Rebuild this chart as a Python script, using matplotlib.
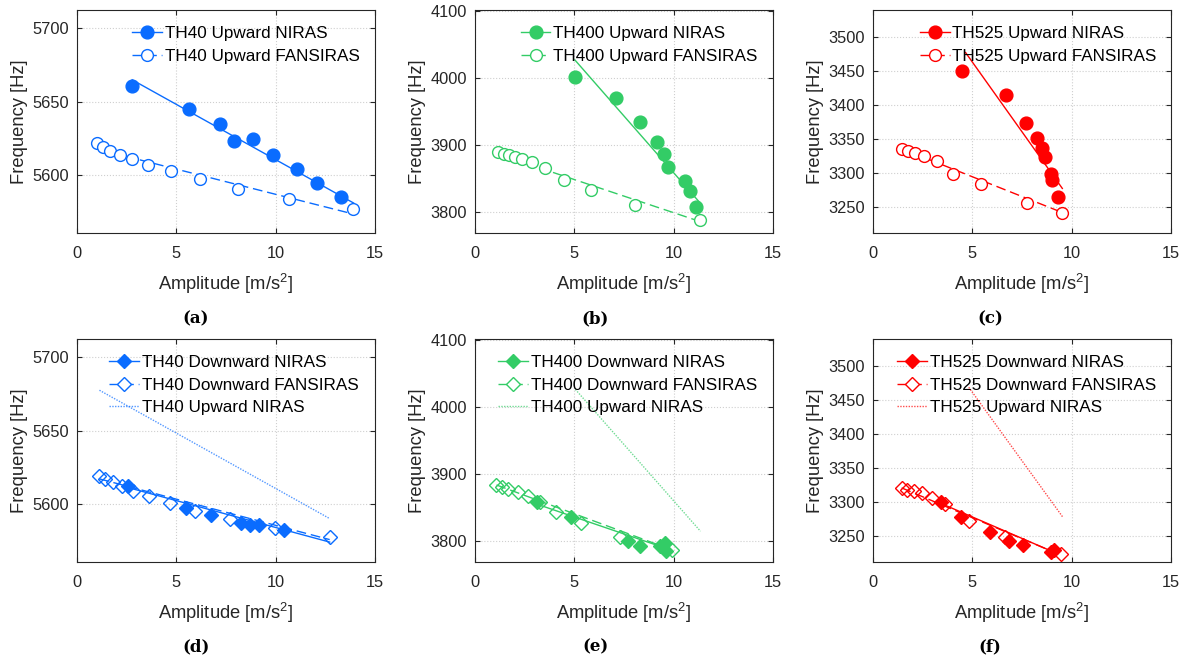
import matplotlib.pyplot as plt
from matplotlib.lines import Line2D

plt.rcParams['font.family'] = ['Liberation Sans', 'DejaVu Sans']
plt.rcParams['mathtext.default'] = 'regular'

blue = '#0a6cff'
green = '#33cc66'
red = '#ff0000'

# ---- upward sweeps ----
th40_up_niras_amp = [2.78, 5.63, 7.18, 7.92, 8.87, 9.87, 11.08, 12.10, 13.28]
th40_up_niras_freq = [5660.7, 5645.2, 5634.5, 5623.2, 5624.1, 5613.2, 5604.1, 5594.5, 5584.8]
th40_up_niras_fit_amp = [2.78, 13.92]
th40_up_niras_fit_freq = [5664.8, 5580.7]
th40_up_fans_amp = [1.03, 1.33, 1.68, 2.15, 2.78, 3.58, 4.72, 6.18, 8.10, 10.68, 13.87]
th40_up_fans_freq = [5621.4, 5618.9, 5616.4, 5613.6, 5610.5, 5606.8, 5602.5, 5597.0, 5590.5, 5583.4, 5576.4]
th40_up_fans_fit_amp = [1.03, 13.87]
th40_up_fans_fit_freq = [5617.5, 5573.3]

th400_up_niras_amp = [5.05, 7.09, 8.33, 9.18, 9.53, 9.72, 10.57, 10.80, 11.10]
th400_up_niras_freq = [4002.0, 3971.2, 3934.0, 3904.2, 3886.8, 3868.0, 3846.7, 3831.8, 3807.9]
th400_up_niras_fit_amp = [5.03, 11.30]
th400_up_niras_fit_freq = [4027.3, 3814.9]
th400_up_fans_amp = [1.14, 1.44, 1.69, 1.99, 2.39, 2.89, 3.51, 4.46, 5.85, 8.06, 11.34]
th400_up_fans_freq = [3890.3, 3887.3, 3884.9, 3882.9, 3879.4, 3874.4, 3865.5, 3848.1, 3833.3, 3810.4, 3788.6]
th400_up_fans_fit_amp = [1.14, 11.34]
th400_up_fans_fit_freq = [3887.0, 3786.0]

th525_up_niras_amp = [4.46, 6.71, 7.70, 8.27, 8.52, 8.66, 8.94, 8.99, 9.33]
th525_up_niras_freq = [3449.9, 3413.9, 3373.1, 3351.7, 3336.6, 3323.4, 3299.1, 3289.4, 3265.6]
th525_up_niras_fit_amp = [4.66, 9.53]
th525_up_niras_fit_freq = [3476.7, 3277.7]
th525_up_fans_amp = [1.44, 1.78, 2.13, 2.58, 3.20, 4.01, 5.42, 7.73, 9.53]
th525_up_fans_freq = [3335.1, 3332.7, 3329.3, 3324.9, 3318.6, 3299.1, 3283.6, 3256.8, 3241.7]
th525_up_fans_fit_amp = [1.44, 9.53]
th525_up_fans_fit_freq = [3336.0, 3242.4]

# ---- downward sweeps ----
th40_down_niras_amp = [2.58, 5.50, 6.75, 8.25, 8.70, 9.18, 10.42]
th40_down_niras_freq = [5612.0, 5596.8, 5592.3, 5586.8, 5585.7, 5585.5, 5582.3]
th40_down_niras_fit_amp = [2.58, 12.72]
th40_down_niras_fit_freq = [5611.0, 5573.8]
th40_down_fans_amp = [1.12, 1.43, 1.80, 2.25, 2.83, 3.63, 4.67, 5.95, 7.70, 9.98, 12.72]
th40_down_fans_freq = [5618.9, 5617.0, 5614.8, 5612.0, 5608.6, 5605.2, 5600.7, 5595.0, 5589.8, 5583.6, 5577.5]
th40_down_fans_fit_amp = [1.12, 12.72]
th40_down_fans_fit_freq = [5617.0, 5575.5]
th40_up_ref_amp = [1.13, 12.70]
th40_up_ref_freq = [5677.5, 5590.0]

th400_down_niras_amp = [3.10, 4.85, 7.68, 8.32, 9.33, 9.55, 9.60]
th400_down_niras_freq = [3858.1, 3836.2, 3800.0, 3792.6, 3792.6, 3797.5, 3785.1]
th400_down_niras_fit_amp = [3.10, 9.60]
th400_down_niras_fit_freq = [3855.5, 3789.5]
th400_down_fans_amp = [1.08, 1.38, 1.68, 2.17, 2.67, 3.27, 4.10, 5.35, 7.30, 9.92]
th400_down_fans_freq = [3883.9, 3880.4, 3877.4, 3873.9, 3868.0, 3858.1, 3843.2, 3827.3, 3806.9, 3787.1]
th400_down_fans_fit_amp = [1.08, 9.92]
th400_down_fans_fit_freq = [3884.0, 3787.0]
th400_up_ref_amp = [5.05, 11.35]
th400_up_ref_freq = [4026.8, 3814.9]

th525_down_niras_amp = [3.44, 4.41, 5.90, 6.87, 7.56, 8.96, 9.13]
th525_down_niras_freq = [3300.7, 3278.3, 3256.3, 3243.2, 3237.3, 3227.6, 3230.0]
th525_down_niras_fit_amp = [3.44, 9.13]
th525_down_niras_fit_freq = [3298.0, 3226.5]
th525_down_fans_amp = [1.44, 1.72, 2.06, 2.49, 2.99, 3.61, 4.83, 6.64, 9.46]
th525_down_fans_freq = [3320.7, 3318.2, 3315.8, 3312.9, 3306.5, 3297.8, 3272.4, 3249.5, 3223.7]
th525_down_fans_fit_amp = [1.44, 9.46]
th525_down_fans_fit_freq = [3321.0, 3222.5]
th525_up_ref_amp = [4.82, 9.55]
th525_up_ref_freq = [3468.3, 3278.3]

ylims = {'TH40': (5560, 5712.5), 'TH400': (3768.5, 4102), 'TH525': (3212, 3539)}
yticks = {'TH40': [5600, 5650, 5700], 'TH400': [3800, 3900, 4000, 4100],
          'TH525': [3250, 3300, 3350, 3400, 3450, 3500]}

upward = [
    ('TH40', blue, th40_up_niras_amp, th40_up_niras_freq, th40_up_niras_fit_amp, th40_up_niras_fit_freq,
     th40_up_fans_amp, th40_up_fans_freq, th40_up_fans_fit_amp, th40_up_fans_fit_freq, 0.185),
    ('TH400', green, th400_up_niras_amp, th400_up_niras_freq, th400_up_niras_fit_amp, th400_up_niras_fit_freq,
     th400_up_fans_amp, th400_up_fans_freq, th400_up_fans_fit_amp, th400_up_fans_fit_freq, 0.153),
    ('TH525', red, th525_up_niras_amp, th525_up_niras_freq, th525_up_niras_fit_amp, th525_up_niras_fit_freq,
     th525_up_fans_amp, th525_up_fans_freq, th525_up_fans_fit_amp, th525_up_fans_fit_freq, 0.157),
]
downward = [
    ('TH40', blue, th40_down_niras_amp, th40_down_niras_freq, th40_down_niras_fit_amp, th40_down_niras_fit_freq,
     th40_down_fans_amp, th40_down_fans_freq, th40_down_fans_fit_amp, th40_down_fans_fit_freq,
     th40_up_ref_amp, th40_up_ref_freq, 0.108),
    ('TH400', green, th400_down_niras_amp, th400_down_niras_freq, th400_down_niras_fit_amp, th400_down_niras_fit_freq,
     th400_down_fans_amp, th400_down_fans_freq, th400_down_fans_fit_amp, th400_down_fans_fit_freq,
     th400_up_ref_amp, th400_up_ref_freq, 0.078),
    ('TH525', red, th525_down_niras_amp, th525_down_niras_freq, th525_down_niras_fit_amp, th525_down_niras_fit_freq,
     th525_down_fans_amp, th525_down_fans_freq, th525_down_fans_fit_amp, th525_down_fans_fit_freq,
     th525_up_ref_amp, th525_up_ref_freq, 0.081),
]

W, H = 1192, 664
fig = plt.figure(figsize=(W / 100, H / 100), dpi=100)
lefts = [77, 475, 873]
tops = [10, 339]
aw, ah = 298, 223.3
cap_x = [196, 595, 990]
cap_y = [319, 647]
captions = ['(a)', '(b)', '(c)', '(d)', '(e)', '(f)']

dash = (0, (7, 3.5))
dot = (0, (1, 1))


def style_axes(ax, name):
    ax.set_xlim(0, 15)
    ax.set_xticks([0, 5, 10, 15])
    ax.set_ylim(*ylims[name])
    ax.set_yticks(yticks[name])
    ax.grid(True, color='#cfcfcf', linestyle=':', linewidth=0.8)
    ax.set_axisbelow(True)
    for s in ax.spines.values():
        s.set_color('#262626')
        s.set_linewidth(0.8)
    ax.tick_params(direction='in', length=3.5, width=0.8, top=True, right=True,
                   labelsize=11.8, colors='#262626')
    ax.tick_params(axis='x', pad=9)
    ax.tick_params(axis='y', pad=6)
    ax.set_xlabel('Amplitude [m/s$^2$]', fontsize=13.2, color='#262626', labelpad=8)
    ax.set_ylabel('Frequency [Hz]', fontsize=13.2, color='#262626', labelpad=3)


def add_legend(ax, handles, x0):
    ax.legend(handles=handles, loc='upper left', bbox_to_anchor=(x0, 0.928), frameon=False,
              fontsize=12.3, handlelength=1.75, handletextpad=0.15, labelspacing=0.45,
              borderpad=0, borderaxespad=0)


for i, row in enumerate(upward):
    name, c, na, nf, nfa, nff, fa, ff, ffa, fff, lx = row
    ax = fig.add_axes([lefts[i] / W, 1 - (tops[0] + ah) / H, aw / W, ah / H])
    ax.plot(nfa, nff, color=c, lw=1.0)
    ax.plot(ffa, fff, color=c, lw=1.0, linestyle=dash)
    ax.plot(na, nf, 'o', color=c, ms=9.2, mec=c, mfc=c, linestyle='none')
    ax.plot(fa, ff, 'o', color=c, ms=8.5, mec=c, mfc='white', mew=1.0, linestyle='none')
    style_axes(ax, name)
    handles = [
        Line2D([], [], color=c, lw=1.0, marker='o', ms=9.2, mfc=c, label=f'{name} Upward NIRAS'),
        Line2D([], [], color=c, lw=1.0, linestyle=dash, marker='o', ms=8.5, mfc='white',
               label=f'{name} Upward FANSIRAS'),
    ]
    add_legend(ax, handles, lx)

for i, row in enumerate(downward):
    name, c, na, nf, nfa, nff, fa, ff, ffa, fff, ra, rf, lx = row
    ax = fig.add_axes([lefts[i] / W, 1 - (tops[1] + ah) / H, aw / W, ah / H])
    ax.plot(ra, rf, color=c, lw=1.0, linestyle=dot, alpha=0.7)
    ax.plot(nfa, nff, color=c, lw=1.0)
    ax.plot(ffa, fff, color=c, lw=1.0, linestyle=dash)
    ax.plot(na, nf, 'D', color=c, ms=7.5, mec=c, mfc=c, linestyle='none')
    ax.plot(fa, ff, 'D', color=c, ms=7.5, mec=c, mfc='none', mew=1.0, linestyle='none')
    style_axes(ax, name)
    handles = [
        Line2D([], [], color=c, lw=1.0, marker='D', ms=7.5, mfc=c, label=f'{name} Downward NIRAS'),
        Line2D([], [], color=c, lw=1.0, linestyle=dash, marker='D', ms=7.5, mfc='white',
               label=f'{name} Downward FANSIRAS'),
        Line2D([], [], color=c, lw=1.0, linestyle=dot, alpha=0.7, label=f'{name} Upward NIRAS'),
    ]
    add_legend(ax, handles, lx)

for k, cap in enumerate(captions):
    fig.text(cap_x[k % 3] / W, 1 - cap_y[k // 3] / H, cap, ha='center', va='center',
             fontsize=12, fontweight='bold', family='DejaVu Serif')

fig.savefig('out.png', dpi=100)
